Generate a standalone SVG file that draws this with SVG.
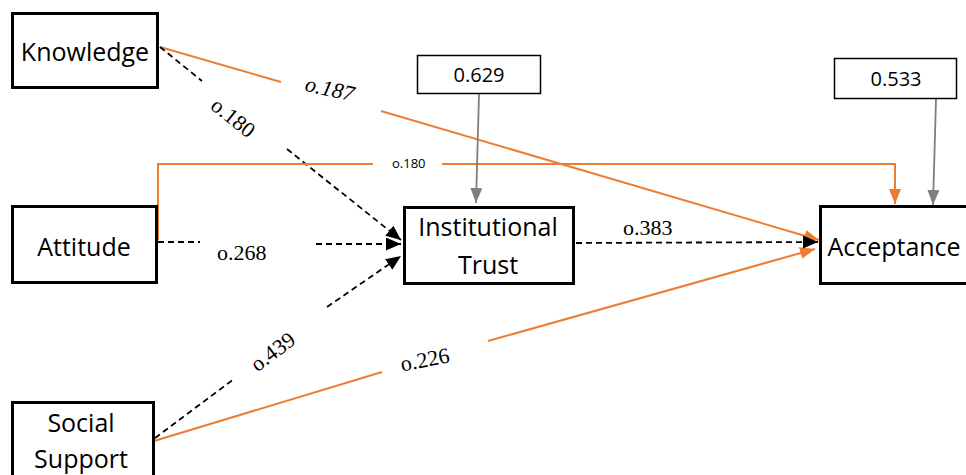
<svg xmlns="http://www.w3.org/2000/svg" width="966" height="475" viewBox="0 0 966 475">
<style>
  .node { fill: #fff; stroke: #000; stroke-width: 3; }
  .small { fill: #fff; stroke: #000; stroke-width: 1.5; }
  .lbl { font-family: "Open Sans", "Noto Sans", sans-serif; font-size: 25px; fill: #000; text-anchor: middle; }
  .num { font-family: "Open Sans", "Noto Sans", sans-serif; font-size: 20px; fill: #000; text-anchor: middle; }
  .coef { font-family: "Liberation Serif", "Times New Roman", serif; font-size: 22px; fill: #000; }
  .dash { stroke: #000; stroke-width: 1.8; stroke-dasharray: 6 4; fill: none; }
  .orange { stroke: #ED7D31; stroke-width: 2; fill: none; }
  .gray { stroke: #7F7F7F; stroke-width: 1.8; fill: none; }
</style>
<defs>
  <marker id="ab" markerUnits="userSpaceOnUse" markerWidth="16" markerHeight="14" refX="15" refY="6.5" orient="auto">
    <path d="M0,0 L15,6.5 L0,13 z" fill="#000"/>
  </marker>
  <marker id="ao" markerUnits="userSpaceOnUse" markerWidth="16" markerHeight="14" refX="15" refY="6" orient="auto">
    <path d="M0,0 L15,6 L0,12 z" fill="#ED7D31"/>
  </marker>
  <marker id="ag" markerUnits="userSpaceOnUse" markerWidth="16" markerHeight="14" refX="15" refY="6" orient="auto">
    <path d="M0,0 L15,6 L0,12 z" fill="#7F7F7F"/>
  </marker>
</defs>

<g id="connectors">
  <line class="orange" x1="160" y1="47" x2="281" y2="82"/>
  <line class="orange" x1="381" y1="111" x2="819" y2="240" marker-end="url(#ao)"/>
  <line class="dash" x1="160" y1="47" x2="202" y2="81"/>
  <line class="dash" x1="287" y1="149" x2="401" y2="240" marker-end="url(#ab)"/>
  <line class="dash" x1="158" y1="242" x2="200" y2="242"/>
  <line class="dash" x1="316" y1="244" x2="401" y2="244" marker-end="url(#ab)"/>
  <line class="dash" x1="155" y1="438" x2="234" y2="379"/>
  <line class="dash" x1="327" y1="307" x2="401" y2="256" marker-end="url(#ab)"/>
  <line class="orange" x1="154" y1="441" x2="382" y2="372"/>
  <line class="orange" x1="488" y1="341" x2="815" y2="249" marker-end="url(#ao)"/>
  <path class="orange" d="M158,240 V164 H373"/>
  <path class="orange" d="M442,164 H895 V204" marker-end="url(#ao)"/>
  <line class="dash" x1="576" y1="243" x2="818" y2="242" marker-end="url(#ab)"/>
  <line class="gray" x1="479" y1="94" x2="476" y2="203" marker-end="url(#ag)"/>
  <line class="gray" x1="936" y1="99" x2="933" y2="205" marker-end="url(#ag)"/>

  <text class="coef" font-style="italic" font-size="24" text-anchor="middle" transform="translate(328,96) rotate(13)">o.187</text>
  <text class="coef" text-anchor="middle" transform="translate(233,118) rotate(38.7)" y="7">o.180</text>
  <text class="coef" x="217" y="260">o.268</text>
  <text class="coef" text-anchor="middle" transform="translate(273,352) rotate(-37)" y="7">o.439</text>
  <text class="coef" text-anchor="middle" transform="translate(425,360) rotate(-11)" y="7">o.226</text>
  <text class="coef" x="623" y="235">o.383</text>
  <text x="392" y="168" font-family="Open Sans, Noto Sans, sans-serif" font-size="13" fill="#000">o.180</text>
</g>

<g id="knowledge">
  <rect class="node" x="12.5" y="13.5" width="145" height="74"/>
  <text class="lbl" x="85" y="61">Knowledge</text>
</g>
<g id="attitude">
  <rect class="node" x="12.5" y="206.5" width="144" height="76"/>
  <text class="lbl" x="84" y="256">Attitude</text>
</g>
<g id="social-support">
  <rect class="node" x="12.5" y="402.5" width="141" height="85"/>
  <text class="lbl" x="81" y="432">Social</text>
  <text class="lbl" x="81" y="468">Support</text>
</g>
<g id="institutional-trust">
  <rect class="node" x="404.5" y="207.5" width="169" height="76"/>
  <text class="lbl" x="488" y="236">Institutional</text>
  <text class="lbl" x="488" y="274">Trust</text>
</g>
<g id="acceptance">
  <rect class="node" x="820.5" y="206.5" width="160" height="77"/>
  <text class="lbl" x="894" y="256">Acceptance</text>
</g>
<g id="e-trust">
  <rect class="small" x="417.5" y="55.5" width="123" height="38"/>
  <text class="num" x="479" y="82">0.629</text>
</g>
<g id="e-acceptance">
  <rect class="small" x="834.5" y="58.5" width="122" height="40"/>
  <text class="num" x="896" y="86">0.533</text>
</g>
</svg>
